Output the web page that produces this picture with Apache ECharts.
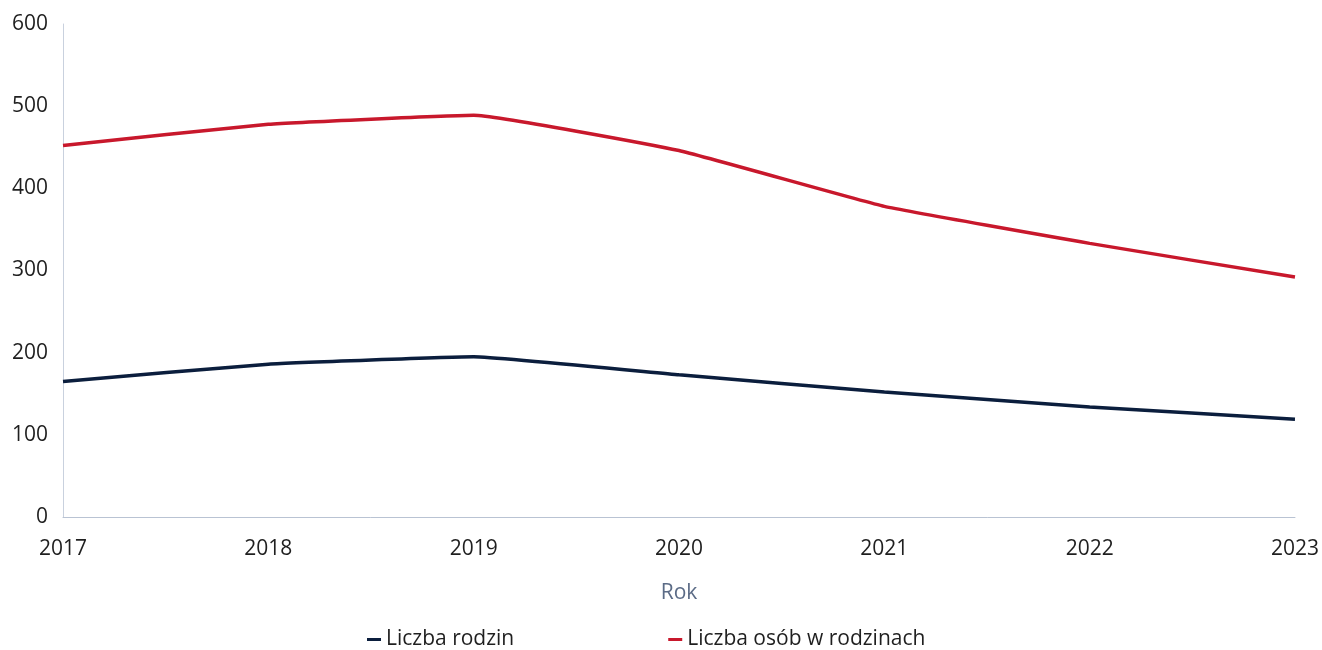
<!DOCTYPE html>
<html><head><meta charset="utf-8">
<script src="https://cdn.jsdelivr.net/npm/echarts@6/dist/echarts.min.js"></script>
<style>html,body{margin:0;padding:0;background:#fff}#c{width:1322px;height:650px}</style>
</head><body><div id="c"></div>
<script>
const years = ['2017','2018','2019','2020','2021','2022','2023'];
const liczbaRodzin = [165, 186, 195, 173, 152, 134, 119];
const liczbaOsob = [452, 478, 489, 446, 378, 333, 292];
const yTicks = [0, 100, 200, 300, 400, 500, 600];

const chart = echarts.init(document.getElementById('c'));
const font = '"Open Sans", "Noto Sans", sans-serif';
chart.setOption({
  animation: false,
  backgroundColor: '#ffffff',
  textStyle: { fontFamily: font },
  grid: { left: 63, right: 25, top: 24, bottom: 133, containLabel: false },
  xAxis: {
    type: 'category', data: years, boundaryGap: false,
    name: 'Rok', nameLocation: 'middle', nameGap: 66,
    nameTextStyle: { color: '#5b6b86', fontSize: 21, fontFamily: font },
    axisLine: { show: true, lineStyle: { color: '#b9c3d3', width: 1 } },
    axisTick: { show: false },
    axisLabel: { color: '#1f1f1f', fontSize: 21, margin: 22, fontFamily: font }
  },
  yAxis: {
    type: 'value', min: yTicks[0], max: yTicks[yTicks.length - 1], interval: 100,
    axisLine: { show: true, lineStyle: { color: '#c9d1de', width: 1 } },
    axisTick: { show: false },
    splitLine: { show: false },
    axisLabel: { color: '#1f1f1f', fontSize: 21, margin: 15, fontFamily: font }
  },
  legend: {
    left: 362, top: 624,
    itemGap: 154, itemWidth: 14, itemHeight: 3, itemTextGap: 10,
    textStyle: { color: '#1f1f1f', fontSize: 21, fontFamily: font },
    data: [
      { name: 'Liczba rodzin', icon: 'rect' },
      { name: 'Liczba osób w rodzinach', icon: 'rect' }
    ]
  },
  series: [
    { name: 'Liczba rodzin', type: 'line', data: liczbaRodzin, showSymbol: false, smooth: 0.1,
      color: '#0b1e3d', lineStyle: { width: 3.5, color: '#0b1e3d' } },
    { name: 'Liczba osób w rodzinach', type: 'line', data: liczbaOsob, showSymbol: false, smooth: 0.1,
      color: '#c8182c', lineStyle: { width: 3.5, color: '#c8182c' } }
  ]
});
</script></body></html>
